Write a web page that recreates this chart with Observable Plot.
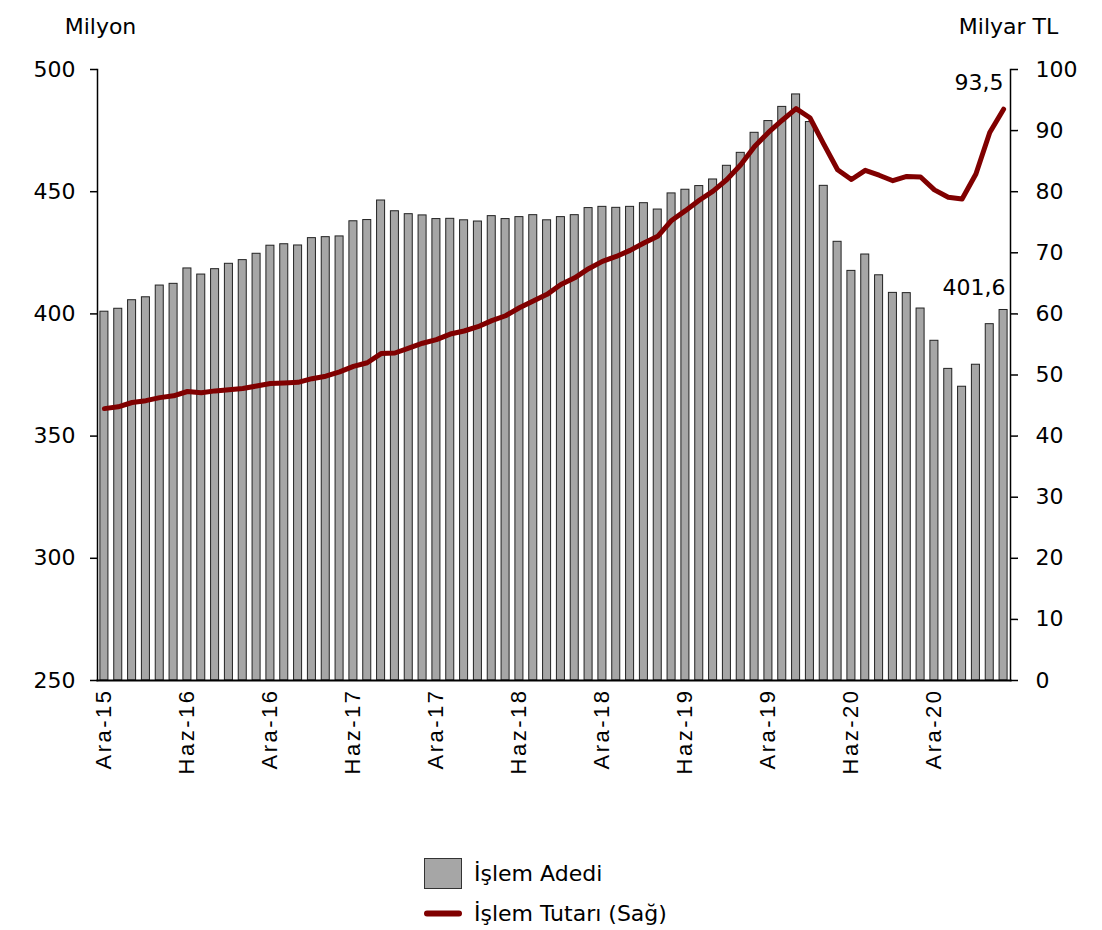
<!DOCTYPE html>
<html>
<head>
<meta charset="utf-8">
<script src="https://cdn.jsdelivr.net/npm/d3@7"></script>
<script src="https://cdn.jsdelivr.net/npm/@observablehq/plot@0.6"></script>
<style>
  body { margin: 0; background: #fff; }
  #wrap { position: relative; width: 1102px; height: 930px; }
  #legend { position: absolute; left: 424px; top: 853px; font-family: "DejaVu Sans", sans-serif; font-size: 22px; color: #000; }
  #legend .row { display: flex; align-items: center; height: 40px; }
  #legend svg { margin-right: 12px; }
  g[aria-label="x-axis tick label"] text { letter-spacing: 2.5px; }
</style>
</head>
<body>
<div id="wrap">
  <div id="chart"></div>
  <div id="legend">
    <div class="row"><svg width="38" height="31"><rect x="0.5" y="0.5" width="37" height="30" fill="#a6a6a6" stroke="#333" stroke-width="1"/></svg><span>İşlem Adedi</span></div>
    <div class="row"><svg width="38" height="31"><line x1="3" x2="35" y1="15.5" y2="15.5" stroke="#800000" stroke-width="6" stroke-linecap="round"/></svg><span>İşlem Tutarı (Sağ)</span></div>
  </div>
</div>
<script>
// Turkish month abbreviations and series start (Ara-15)
const monthNames = ["Oca","Şub","Mar","Nis","May","Haz","Tem","Ağu","Eyl","Eki","Kas","Ara"];
const startMonthIndex = 11; // Aralık
const startYear = 15;

// x-axis tick labels shown
const xTicks = ["Ara-15","Haz-16","Ara-16","Haz-17","Ara-17","Haz-18","Ara-18","Haz-19","Ara-19","Haz-20","Ara-20"];

// İşlem Adedi (Milyon) – left axis
const adet = [
  400.9, 402.1, 405.6, 406.8, 411.6, 412.3, 418.6, 416.1, 418.3, 420.5, 422.0, 424.6,
  427.9, 428.5, 428.0, 431.0, 431.4, 431.7, 437.9, 438.4, 446.4, 442.0, 440.8, 440.3,
  438.8, 438.9, 438.3, 437.8, 440.0, 438.8, 439.6, 440.4, 438.3, 439.6, 440.4, 443.3,
  443.8, 443.4, 443.8, 445.3, 442.7, 449.3, 450.8, 452.3, 455.0, 460.6, 465.9, 474.1,
  478.9, 484.7, 489.8, 478.5, 452.4, 429.5, 417.6, 424.3, 415.8, 408.6, 408.5, 402.2,
  389.0, 377.5, 370.2, 379.2, 395.8, 401.6
];

// İşlem Tutarı (Milyar TL) – right axis
const tutar = [
  44.5, 44.8, 45.5, 45.8, 46.3, 46.6, 47.3, 47.1, 47.4, 47.6, 47.8, 48.2,
  48.6, 48.7, 48.8, 49.4, 49.8, 50.5, 51.4, 52.0, 53.5, 53.6, 54.4, 55.2,
  55.8, 56.7, 57.2, 57.9, 58.9, 59.7, 61.0, 62.1, 63.2, 64.8, 65.9, 67.4,
  68.6, 69.4, 70.4, 71.6, 72.7, 75.3, 76.9, 78.6, 80.1, 82.0, 84.4, 87.4,
  89.7, 91.7, 93.6, 92.1, 87.8, 83.6, 82.0, 83.5, 82.7, 81.8, 82.5, 82.4,
  80.3, 79.1, 78.8, 82.9, 89.7, 93.5
];

const leftTicks = [250, 300, 350, 400, 450, 500];
const rightTicks = [0, 10, 20, 30, 40, 50, 60, 70, 80, 90, 100];
const leftDomain = [250, 500];
const rightDomain = [0, 100];

const lastAdetLabel = "401,6";
const lastTutarLabel = "93,5";

// month categories
const months = adet.map((_, i) => {
  const k = startMonthIndex + i;
  return `${monthNames[k % 12]}-${startYear + Math.floor(k / 12)}`;
});

// map right-axis values onto the left scale
const toLeft = v => leftDomain[0] + (v - rightDomain[0]) * (leftDomain[1] - leftDomain[0]) / (rightDomain[1] - rightDomain[0]);
const fromLeft = d => rightDomain[0] + (d - leftDomain[0]) * (rightDomain[1] - rightDomain[0]) / (leftDomain[1] - leftDomain[0]);

const data = months.map((m, i) => ({m, adet: adet[i], tutar: tutar[i], t: toLeft(tutar[i])}));
const last = data[data.length - 1];

const font = "'DejaVu Sans', sans-serif";

const chart = Plot.plot({
  width: 1102,
  height: 800,
  marginLeft: 97,
  marginRight: 92,
  marginTop: 69,
  marginBottom: 120,
  style: {fontFamily: font, fontSize: "22px", color: "#000", background: "#fff"},
  x: {type: "band", domain: months, paddingInner: 0.42, paddingOuter: 0.21},
  y: {domain: leftDomain},
  marks: [
    Plot.barY(data, {x: "m", y1: leftDomain[0], y2: "adet", fill: "#a6a6a6", stroke: "#222", strokeWidth: 1}),
    Plot.line(data, {x: "m", y: "t", stroke: "#800000", strokeWidth: 5, strokeLinejoin: "round", strokeLinecap: "round"}),
    Plot.frame({anchor: "left", stroke: "#000", strokeWidth: 1.5}),
    Plot.frame({anchor: "right", stroke: "#000", strokeWidth: 1.5}),
    Plot.frame({anchor: "bottom", stroke: "#000", strokeWidth: 2}),
    Plot.axisY({anchor: "left", ticks: leftTicks, tickSize: 7, tickPadding: 15, label: null, fontSize: 22, strokeWidth: 1.5}),
    Plot.axisY({anchor: "right", ticks: rightTicks.map(toLeft), tickFormat: d => String(Math.round(fromLeft(d))), tickSize: 7, tickPadding: 18, label: null, fontSize: 22, strokeWidth: 1.5}),
    Plot.axisX({ticks: xTicks, tickSize: 0, tickPadding: 8, tickRotate: -90, label: null, fontSize: 22, fontFamily: "'Liberation Sans', Arial, sans-serif"}),
    Plot.text(["Milyon"], {frameAnchor: "top-left", dx: 3, dy: -51, textAnchor: "middle", fontSize: 22}),
    Plot.text(["Milyar TL"], {frameAnchor: "top-right", dx: -2, dy: -51, textAnchor: "middle", fontSize: 22}),
    Plot.text([last], {x: "m", y: "t", text: () => lastTutarLabel, textAnchor: "end", dx: 0, dy: -26, fontSize: 22}),
    Plot.text([last], {x: "m", y: "adet", text: () => lastAdetLabel, textAnchor: "end", dx: 2, dy: -22, fontSize: 22})
  ]
});
document.getElementById("chart").appendChild(chart);
</script>
</body>
</html>
